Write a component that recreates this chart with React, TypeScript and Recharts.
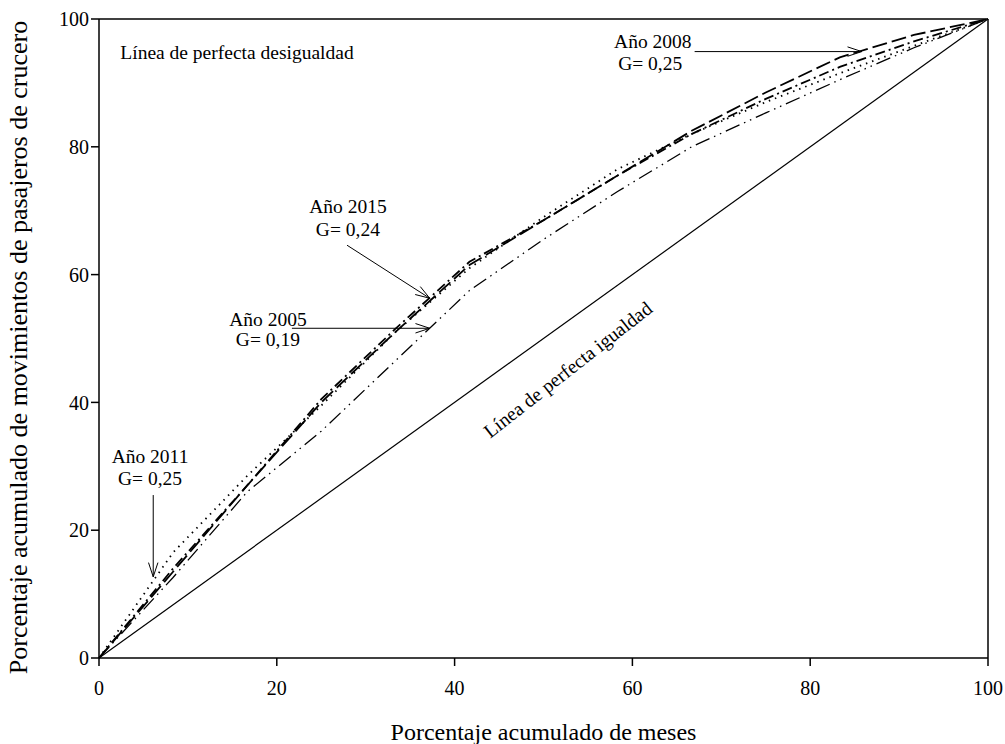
import React from 'react';
import { LineChart, Line, XAxis, YAxis, ReferenceLine, ReferenceDot, Label } from 'recharts';

// Porcentaje acumulado de meses (12 meses)
const meses = [0, 8.33, 16.67, 25, 33.33, 41.67, 50, 58.33, 66.67, 75, 83.33, 91.67, 100];
// Porcentaje acumulado de movimientos de pasajeros de crucero
const anio2005 = [0, 12.6, 26, 35.5, 46.5, 57.5, 65.5, 73, 80, 85.3, 90.5, 95.5, 100];
const anio2008 = [0, 13.5, 27, 40, 51, 61.5, 68.5, 75.5, 82.5, 88.5, 94, 97.5, 100];
const anio2011 = [0, 16.5, 28.5, 39.5, 51, 61, 69, 76.5, 82, 87, 91.5, 95.8, 100];
const anio2015 = [0, 14, 27, 40.5, 51.5, 62, 68.5, 75.5, 82, 87.5, 92.5, 96.5, 100];

const ticks = [0, 20, 40, 60, 80, 100];

const data = meses.map((m, i) => ({
  x: m,
  a2005: anio2005[i],
  a2008: anio2008[i],
  a2011: anio2011[i],
  a2015: anio2015[i],
}));

const FONT = '"Liberation Serif", "Times New Roman", serif';

if (typeof document !== 'undefined') {
  document.body.style.margin = '0';
}

const Arrow = (props: any) => {
  const { x1, y1, x2, y2 } = props;
  const ang = Math.atan2(y2 - y1, x2 - x1);
  const len = 15;
  const spread = 0.32;
  const ax = x2 - len * Math.cos(ang - spread);
  const ay = y2 - len * Math.sin(ang - spread);
  const bx = x2 - len * Math.cos(ang + spread);
  const by = y2 - len * Math.sin(ang + spread);
  return (
    <g>
      <line x1={x1} y1={y1} x2={x2} y2={y2} stroke="#000" strokeWidth={1} />
      <polyline points={`${ax},${ay} ${x2},${y2} ${bx},${by}`} fill="none" stroke="#000" strokeWidth={1} />
    </g>
  );
};

const makeText = (text: string, size: number, anchor: string = 'middle', rotate: number = 0) => (p: any) => (
  <text
    x={p.cx}
    y={p.cy}
    textAnchor={anchor as any}
    dominantBaseline="central"
    fontFamily={FONT}
    fontSize={size}
    fill="#000"
    transform={rotate ? `rotate(${rotate} ${p.cx} ${p.cy})` : undefined}
  >
    {text}
  </text>
);

const notes = [
  { x: 5.74, y: 31.5, t: 'Año 2011' },
  { x: 5.74, y: 28.1, t: 'G= 0,25' },
  { x: 28.0, y: 70.6, t: 'Año 2015' },
  { x: 28.0, y: 67.0, t: 'G= 0,24' },
  { x: 19.0, y: 53.0, t: 'Año 2005' },
  { x: 19.0, y: 49.8, t: 'G= 0,19' },
  { x: 62.3, y: 96.5, t: 'Año 2008' },
  { x: 62.0, y: 93.1, t: 'G= 0,25' },
];

const arrows = [
  { from: { x: 6.1, y: 25.5 }, to: { x: 6.1, y: 12.7 } },
  { from: { x: 27.9, y: 64.6 }, to: { x: 37.2, y: 56.3 } },
  { from: { x: 21.7, y: 51.6 }, to: { x: 37.2, y: 51.6 } },
  { from: { x: 67.0, y: 94.9 }, to: { x: 85.8, y: 94.9 } },
];

const XTitle = (p: any) => {
  const vb = p.viewBox || {};
  const cx = vb.x + vb.width / 2;
  const cy = vb.y + 74;
  return (
    <text x={cx} y={cy} textAnchor="middle" dominantBaseline="central" fontFamily={FONT} fontSize={24} fill="#000">
      Porcentaje acumulado de meses
    </text>
  );
};

const YTitle = (p: any) => {
  const vb = p.viewBox || {};
  const cx = 18;
  const cy = vb.y + vb.height / 2 + 9;
  return (
    <text
      x={cx}
      y={cy}
      textAnchor="middle"
      dominantBaseline="central"
      fontFamily={FONT}
      fontSize={26}
      fill="#000"
      transform={`rotate(-90 ${cx} ${cy})`}
    >
      Porcentaje acumulado de movimientos de pasajeros de crucero
    </text>
  );
};

export default function App() {
  const tickStyle = { fill: '#000', fontSize: 20, fontFamily: FONT };
  return (
    <div style={{ width: 1005, height: 744, background: '#fff' }}>
      <LineChart width={1005} height={744} data={data} margin={{ top: 19, right: 17, bottom: 0, left: 0 }}>
        <XAxis
          type="number"
          dataKey="x"
          domain={[0, 100]}
          ticks={ticks}
          tickSize={8}
          tickMargin={15}
          tick={tickStyle}
          axisLine={{ stroke: '#000', strokeWidth: 1.5 }}
          tickLine={{ stroke: '#000', strokeWidth: 1.5 }}
          height={86}
          label={<Label content={XTitle} />}
        />
        <YAxis
          type="number"
          domain={[0, 100]}
          ticks={ticks}
          tickSize={8}
          tickMargin={2}
          tick={tickStyle}
          axisLine={{ stroke: '#000', strokeWidth: 1.5 }}
          tickLine={{ stroke: '#000', strokeWidth: 1.5 }}
          width={99}
          label={<Label content={YTitle} />}
        />
        <ReferenceLine y={100} stroke="#000" strokeWidth={1.5} />
        <ReferenceLine x={100} stroke="#000" strokeWidth={1.5} />
        <ReferenceLine segment={[{ x: 0, y: 0 }, { x: 100, y: 100 }]} stroke="#000" strokeWidth={1.2} />
        <Line type="linear" dataKey="a2005" stroke="#000" strokeWidth={1.3} strokeDasharray="15 5 1.5 5 1.5 5" dot={false} isAnimationActive={false} />
        <Line type="linear" dataKey="a2008" stroke="#000" strokeWidth={1.8} strokeDasharray="15 5" dot={false} isAnimationActive={false} />
        <Line type="linear" dataKey="a2011" stroke="#000" strokeWidth={1.8} strokeDasharray="1.5 5" dot={false} isAnimationActive={false} />
        <Line type="linear" dataKey="a2015" stroke="#000" strokeWidth={1.8} strokeDasharray="10 4 2 4" dot={false} isAnimationActive={false} />
        {arrows.map((a, i) => (
          <ReferenceLine key={'ar' + i} segment={[a.from, a.to]} shape={Arrow} />
        ))}
        {notes.map((n, i) => (
          <ReferenceDot key={'n' + i} x={n.x} y={n.y} r={1} fill="none" stroke="none" shape={makeText(n.t, 19.5)} />
        ))}
        <ReferenceDot x={2.4} y={94.8} r={1} fill="none" stroke="none" shape={makeText('Línea de perfecta desigualdad', 19.5, 'start')} />
        <ReferenceDot x={52.75} y={45.1} r={1} fill="none" stroke="none" shape={makeText('Línea de perfecta igualdad', 19.5, 'middle', -38)} />
      </LineChart>
    </div>
  );
}
